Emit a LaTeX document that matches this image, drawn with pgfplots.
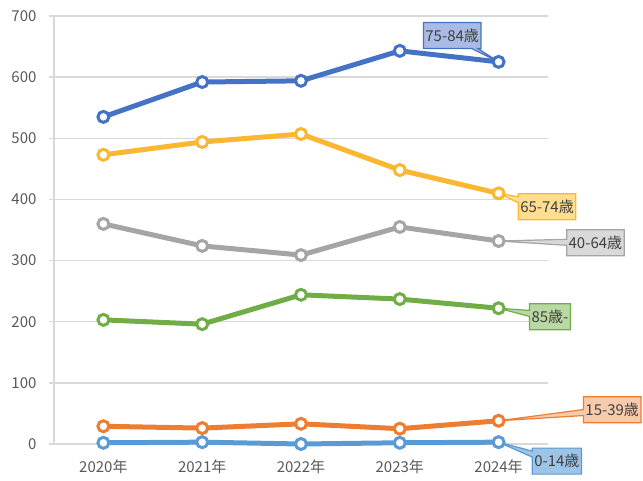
\documentclass[border=0pt]{standalone}
\usepackage{fontspec}
\setmainfont{Noto Sans CJK JP}
\usepackage{pgfplots}
\pgfplotsset{compat=1.18}
\usetikzlibrary{shapes.callouts}
\definecolor{cA}{HTML}{5B9BD5}
\definecolor{cB}{HTML}{ED7D31}
\definecolor{cC}{HTML}{A5A5A5}
\definecolor{cD}{HTML}{FBB731}
\definecolor{cE}{HTML}{4472C4}
\definecolor{cF}{HTML}{70AD47}
\definecolor{fA}{HTML}{9DC3E6}
\definecolor{fB}{HTML}{F8CBAD}
\definecolor{fC}{HTML}{D9D9D9}
\definecolor{fD}{HTML}{FFDF8F}
\definecolor{fE}{HTML}{A9BBE4}
\definecolor{fF}{HTML}{B9D8A4}
\definecolor{gridg}{HTML}{D9D9D9}
\definecolor{txt}{HTML}{595959}
\tikzset{callbox/.style={rectangle callout, draw=#1, line width=1.2pt, text=black!75,
    font=\fontsize{15}{17}\selectfont, inner sep=2pt, minimum height=26pt, callout pointer width=6pt}}
\begin{document}
\begin{tikzpicture}[x=1pt,y=1pt]
\useasboundingbox (-54,-36) rectangle (589,444);
\begin{axis}[at={(0,0)}, anchor=south west, scale only axis,
  width=494pt, height=428pt,
  xmin=-0.5, xmax=4.5, ymin=0, ymax=700,
  xtick={0,1,2,3,4},
  xticklabels={2020年,2021年,2022年,2023年,2024年},
  ytick={0,100,...,700},
  axis lines=left, axis line style={-, draw=gridg, line width=1.3pt},
  ymajorgrids, grid style={draw=gridg, line width=1.3pt},
  x axis line style={draw=gridg, line width=1.3pt},
  xtick style={draw=none},
  ytick style={draw=gridg, line width=1.3pt},
  tick align=outside, major tick length=5pt,
  ticklabel style={font=\fontsize{15}{17}\selectfont, text=txt},
  /pgf/number format/assume math mode=true,
  xticklabel style={yshift=-7pt},
  yticklabel style={xshift=-9pt},
  clip=false,
  every axis plot/.append style={line width=5pt, mark=*, mark size=5.5pt,
    mark options={fill=white, line width=3pt}},
]
\addplot[cA] coordinates {(0,2) (1,3) (2,0) (3,2) (4,3)};
\addplot[cB] coordinates {(0,29) (1,26) (2,33) (3,25) (4,38)};
\addplot[cC] coordinates {(0,360) (1,324) (2,309) (3,355) (4,332)};
\addplot[cD] coordinates {(0,473) (1,494) (2,507) (3,448) (4,410)};
\addplot[cE] coordinates {(0,535) (1,592) (2,594) (3,643) (4,625)};
\addplot[cF] coordinates {(0,203) (1,196) (2,244) (3,237) (4,222)};

\node[callbox=cE, fill=fE, callout absolute pointer={(axis cs:4,625)}] at (axis cs:3.53,668) {75-84歳};
\node[callbox=cD, fill=fD, callout absolute pointer={(axis cs:4,410)}] at (axis cs:4.49,388) {65-74歳};
\node[callbox=cC, fill=fC, callout absolute pointer={(axis cs:4,332)}] at (axis cs:4.98,329) {40-64歳};
\node[callbox=cF, fill=fF, callout absolute pointer={(axis cs:4,222)}] at (axis cs:4.52,208) {85歳-};
\node[callbox=cB, fill=fB, callout absolute pointer={(axis cs:4,38)}] at (axis cs:5.15,56) {15-39歳};
\node[callbox=cA, fill=fA, callout absolute pointer={(axis cs:4,3)}] at (axis cs:4.59,-28) {0-14歳};
\end{axis}
\end{tikzpicture}
\end{document}
